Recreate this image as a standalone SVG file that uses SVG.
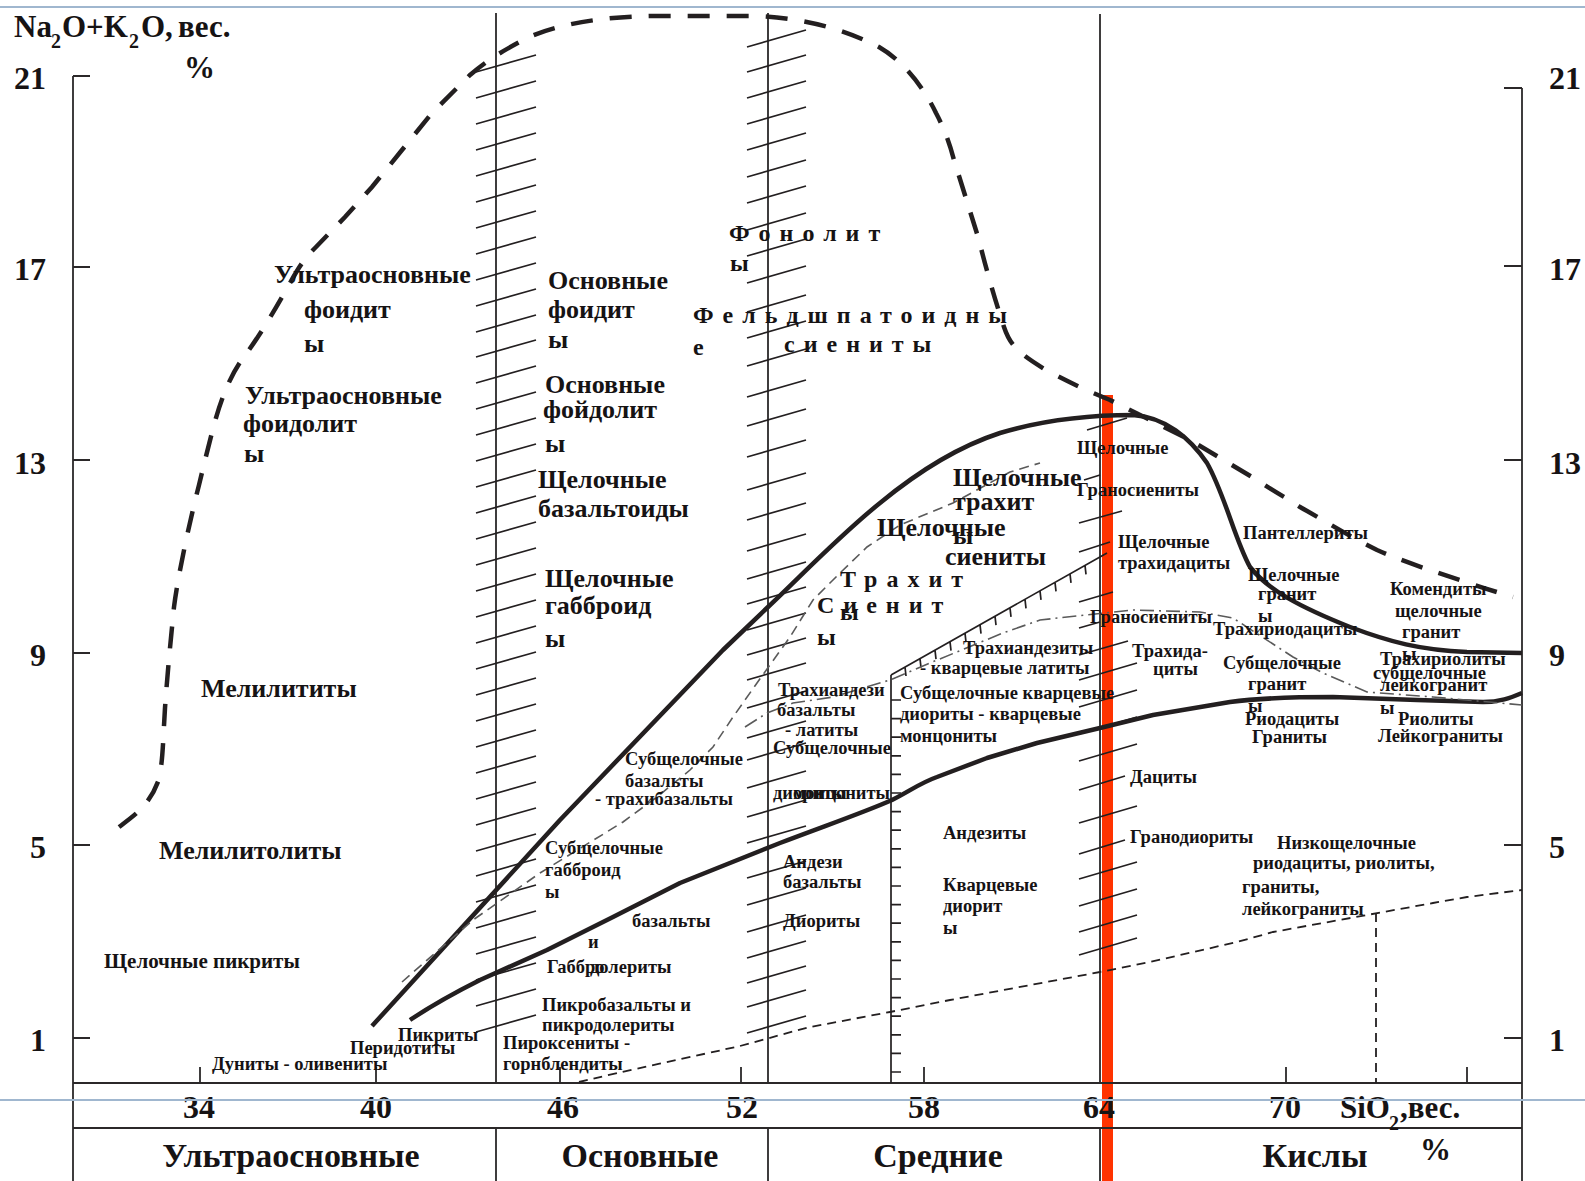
<svg xmlns="http://www.w3.org/2000/svg" width="1585" height="1181" viewBox="0 0 1585 1181">
<style>
.t{font-family:"Liberation Serif","Times New Roman",serif;font-weight:bold;fill:#161314}
.s{font-size:18.5px}.m{font-size:21px}.b{font-size:26px}.n{font-size:32px}.c{font-size:34px}
.sp{font-size:24px;letter-spacing:9px}
.ax{stroke:#2b2829;stroke-width:1.8;fill:none}
.h{stroke:#231f20;stroke-width:1.7;fill:none}
.thick{stroke:#231f20;stroke-width:4.5;fill:none;stroke-linecap:butt;stroke-linejoin:round}
.bigdash{stroke:#231f20;stroke-width:4.5;fill:none;stroke-dasharray:22 17}
.gdash{stroke:#5a5a5a;stroke-width:1.6;fill:none;stroke-dasharray:10 6}
.gdd{stroke:#5a5a5a;stroke-width:1.6;fill:none;stroke-dasharray:14 5 2 5}
.kdash{stroke:#231f20;stroke-width:1.8;fill:none;stroke-dasharray:9 6}
.blue{stroke:#a0b7cf;stroke-width:2}
</style>
<rect width="1585" height="1181" fill="#ffffff"/>

<g id="frame">
<line class="blue" x1="0" y1="7" x2="1585" y2="7"/>
<rect x="1102" y="395" width="11" height="786" fill="#ff3300"/>
<path class="ax" d="M73,76V1181M73,76H90M73,267H90M73,460H90M73,653H90M73,845H90M73,1038H90"/>
<path class="ax" d="M1522,88V1181M1504,88H1522M1504,266H1522M1504,460H1522M1504,653H1522M1504,845H1522M1504,1038H1522"/>
<path class="ax" d="M73,1083H1522M73,1128H1522"/>
<path class="ax" d="M200,1067V1083M376,1067V1083M560,1067V1083M741,1067V1083M924,1067V1083M1286,1067V1083M1467,1067V1083"/>
<path class="ax" d="M496,13V1083M496,1128V1181M768,13V1083M768,1128V1181M1100,14V1083M1100,1128V1181"/>
<path class="h" d="M891,675V1083M891,700h10M891,718.6h10M891,737.2h10M891,755.8h10M891,774.4h10M891,793h10M891,811.6h10M891,830.2h10M891,848.8h10M891,867.4h10M891,886h10M891,904.6h10M891,923.2h10M891,941.8h10M891,960.4h10M891,979h10M891,997.6h10M891,1016.2h10M891,1034.8h10M891,1053.4h10M891,1072h10"/>
<path class="h" d="M891,675L1107,553M905,667l1,9M920,658.6l1,9M935,650.1l1,9M950,641.7l1,9M965,633.2l1,9M980,624.7l1,9M995,616.2l1,9M1010,607.8l1,9M1025,599.3l1,9M1040,590.8l1,9M1055,582.3l1,9M1070,573.9l1,9M1085,565.4l1,9"/>
</g>

<g id="hatch">
<path class="h" d="M476,72l60,-17M476,98l60,-17M476,124l60,-17M476,150l60,-17M476,176l60,-17M476,202l60,-17M476,228l60,-17M476,254l60,-17M476,280l60,-17M476,306l60,-17M476,332l60,-17M476,357l60,-17M476,383l60,-17M476,409l60,-17M476,435l60,-17M476,461l60,-17M476,487l60,-17M476,513l60,-17M476,539l60,-17M476,565l60,-17M476,591l60,-17M476,617l60,-17M476,643l60,-17M476,669l60,-17M476,695l60,-17M476,721l60,-17M476,747l60,-17M476,773l60,-17M476,799l60,-17M476,825l60,-17M476,851l60,-17M476,876l60,-17M476,902l60,-17M476,928l60,-17M476,954l60,-17M476,980l60,-17M476,1006l60,-17M476,1032l60,-17"/>
<path class="h" d="M747,47l59,-17M747,72l59,-17M747,98l59,-17M747,124l59,-17M747,150l59,-17M747,177l59,-17M747,203l59,-17M747,230l59,-17M747,256l59,-17M747,283l59,-17M747,312l59,-17M747,338l59,-17M747,366l59,-17M747,397l59,-17M747,426l59,-17M747,457l59,-17M747,490l59,-17M747,520l59,-17M747,551l59,-17M747,579l59,-17M747,604l59,-17M747,630l59,-17M747,655l59,-17M747,680l59,-17M747,708l59,-17M747,738l59,-17M747,760l59,-17M747,788l59,-17M747,817l59,-17M747,843l59,-17M747,878l59,-17M747,905l59,-17M747,932l59,-17M747,958l59,-17M747,983l59,-17M747,1007l59,-17M747,1033l59,-17"/>
<path class="h" d="M1087,430l40,-12M1084,480l16,-5M1079,523l43,-12M1079,552l31,-10M1079,602l34,-10M1079,628l21,-6M1079,655l49,-14M1079,680l58,-17M1079,707l58,-17M1079,734l58,-17M1079,761l58,-17M1079,790l46,-14M1079,823l58,-17M1079,854l46,-14M1079,879l58,-17M1079,906l58,-17M1079,932l58,-17M1079,955l58,-17"/>
</g>

<g id="connectors">
<path class="bigdash" d="M119,827C135,815 150,805 159,779C163,760 163,740 165,708C167,680 169,657 174,607C178,575 190,520 199,485C205,460 210,440 214,425C222,395 232,372 246,354C260,335 275,310 290,283C300,265 305,258 316,247L345,217L372,187L402,150L432,113L470,75C485,62 500,52 529,37C560,24 600,17 650,16L757,16C800,18 840,27 879,47C905,62 925,90 936,113C945,130 950,145 954,160L979,240C985,265 995,300 1004,327C1010,345 1018,353 1046,370C1070,383 1090,392 1110,400L1190,440L1257,480C1280,495 1290,500 1300,507C1320,518 1350,537 1377,550C1400,560 1420,567 1460,580C1480,587 1500,593 1513,597"/>
<path class="thick" d="M372,1026L560,820L723,650L768,607C800,577 840,535 880,503C920,470 960,446 1000,433C1040,421 1080,415 1133,415C1165,417 1190,438 1207,463C1225,495 1235,540 1250,567C1268,590 1300,607 1350,627C1390,642 1420,650 1467,652L1522,653"/>
<path class="thick" d="M410,1020C440,1000 460,990 480,980L547,950L613,917L680,883L780,843C830,824 865,812 892,800C910,791 920,783 937,777L987,758L1037,743L1100,728L1153,715L1230,702C1260,698 1300,697 1333,697L1417,700L1483,702C1500,702 1510,698 1522,693"/>
<path class="gdash" d="M402,982L473,920L540,873L623,822L657,797L690,770L713,747L733,717L757,683L790,637L813,600L840,573L867,547L900,525L953,503L1010,472L1040,463"/>
<path class="gdd" d="M745,727L767,713L793,703L833,697L863,688L890,680L930,663L1003,633L1040,620L1067,617L1133,610L1200,612L1233,618L1293,657L1323,673L1367,692L1433,697L1522,705"/>
<path class="kdash" d="M579,1082C620,1072 700,1055 740,1046C770,1038 790,1032 810,1027L890,1012L950,1000L1100,972L1150,962L1237,942L1273,932L1367,915L1433,903L1467,897L1522,890"/>
<path class="kdash" d="M1376,913V1083"/>
</g>

<g id="axis-labels" class="t">
<text class="n" x="46" y="89" text-anchor="end">21</text>
<text class="n" x="46" y="280" text-anchor="end">17</text>
<text class="n" x="46" y="474" text-anchor="end">13</text>
<text class="n" x="46" y="666" text-anchor="end">9</text>
<text class="n" x="46" y="858" text-anchor="end">5</text>
<text class="n" x="46" y="1051" text-anchor="end">1</text>
<text class="n" x="1549" y="89">21</text>
<text class="n" x="1549" y="280">17</text>
<text class="n" x="1549" y="474">13</text>
<text class="n" x="1549" y="666">9</text>
<text class="n" x="1549" y="858">5</text>
<text class="n" x="1549" y="1051">1</text>
<text class="n" y="1118" text-anchor="middle"><tspan x="199">34</tspan><tspan x="376">40</tspan><tspan x="563">46</tspan><tspan x="742">52</tspan><tspan x="924">58</tspan><tspan x="1099">64</tspan><tspan x="1285">70</tspan></text>
<text font-size="31" y="37"><tspan x="14">Na</tspan><tspan x="51" y="48" font-size="20">2</tspan><tspan x="62" y="37">O+K</tspan><tspan x="129" y="48" font-size="20">2</tspan><tspan x="141" y="37">O,</tspan><tspan x="178">вес.</tspan></text>
<text font-size="31" x="184" y="78">%</text>
<text font-size="31" y="1118"><tspan x="1340">SiO</tspan><tspan x="1389" y="1130" font-size="20">2</tspan><tspan x="1400" y="1118">,вес.</tspan></text>
<text font-size="31" x="1420" y="1160">%</text>
<text class="c" x="291" y="1167" text-anchor="middle">Ультраосновные</text>
<text class="c" x="640" y="1167" text-anchor="middle">Основные</text>
<text class="c" x="938" y="1167" text-anchor="middle">Средние</text>
<text class="c" x="1315" y="1167" text-anchor="middle">Кислы</text>
</g>

<g id="ultrabasic-labels" class="t">
<text class="b" x="274" y="283">Ультраосновные</text>
<text class="b" x="304" y="318">фоидит</text>
<text class="b" x="304" y="352">ы</text>
<text class="b" x="245" y="404">Ультраосновные</text>
<text class="b" x="243" y="432">фоидолит</text>
<text class="b" x="244" y="462">ы</text>
<text class="b" x="201" y="697">Мелилититы</text>
<text class="b" x="159" y="859">Мелилитолиты</text>
<text class="m" x="104" y="968">Щелочные пикриты</text>
<text class="s" x="212" y="1070">Дуниты - оливениты</text>
<text class="s" x="350" y="1054">Перидотиты</text>
<text class="s" x="398" y="1041">Пикриты</text>
</g>

<g id="basic-labels" class="t">
<text class="b" x="548" y="289">Основные</text>
<text class="b" x="548" y="318">фоидит</text>
<text class="b" x="548" y="348">ы</text>
<text class="b" x="545" y="393">Основные</text>
<text class="b" x="543" y="418">фойдолит</text>
<text class="b" x="545" y="452">ы</text>
<text class="b" x="538" y="488">Щелочные</text>
<text class="b" x="538" y="517">базальтоиды</text>
<text class="b" x="545" y="587">Щелочные</text>
<text class="b" x="545" y="614">габброид</text>
<text class="b" x="545" y="647">ы</text>
<text class="s" x="625" y="765">Субщелочные</text>
<text class="s" x="625" y="787">базальты</text>
<text class="s" x="595" y="805">- трахибазальты</text>
<text class="s" x="545" y="854">Субщелочные</text>
<text class="s" x="545" y="876">габброид</text>
<text class="s" x="545" y="898">ы</text>
<text class="s" x="632" y="927">базальты</text>
<text class="s" x="588" y="948">и</text>
<text class="s" x="547" y="973">Габбро</text>
<text class="s" x="590" y="973">долериты</text>
<text class="s" x="542" y="1011">Пикробазальты и</text>
<text class="s" x="542" y="1031">пикродолериты</text>
<text class="s" x="503" y="1049">Пироксениты -</text>
<text class="s" x="503" y="1070">горнблендиты</text>
</g>

<g id="foid-labels" class="t">
<text class="sp" x="729" y="241">Фонолит</text>
<text class="sp" x="730" y="271">ы</text>
<text class="sp" x="693" y="323">Фельдшпатоидны</text>
<text class="sp" x="693" y="355">е</text>
<text class="sp" x="784" y="352">сиениты</text>
</g>

<g id="intermediate-labels" class="t">
<text class="b" x="953" y="486">Щелочные</text>
<text class="b" x="953" y="510">трахит</text>
<text class="b" x="953" y="544">ы</text>
<text class="b" x="877" y="536">Щелочные</text>
<text class="b" x="945" y="565">сиениты</text>
<text class="sp" x="840" y="587">Трахит</text>
<text class="sp" x="817" y="613">Сиенит</text>
<text class="sp" x="840" y="620">ы</text>
<text class="sp" x="817" y="645">ы</text>
<text class="s" x="778" y="696">Трахиандези</text>
<text class="s" x="777" y="716">базальты</text>
<text class="s" x="785" y="736">- латиты</text>
<text class="s" x="773" y="754">Субщелочные</text>
<text class="s" x="773" y="799">диориты</text>
<text class="s" x="793" y="799">монцониты</text>
<text class="s" x="783" y="868">Андези</text>
<text class="s" x="783" y="888">базальты</text>
<text class="s" x="783" y="927">Диориты</text>
<text class="s" x="963" y="654">Трахиандезиты</text>
<text class="s" x="920" y="674">- кварцевые латиты</text>
<text class="s" x="900" y="699">Субщелочные кварцевые</text>
<text class="s" x="900" y="720">диориты - кварцевые</text>
<text class="s" x="900" y="742">монцониты</text>
<text class="s" x="943" y="839">Андезиты</text>
<text class="s" x="943" y="891">Кварцевые</text>
<text class="s" x="943" y="912">диорит</text>
<text class="s" x="943" y="934">ы</text>
</g>

<g id="acid-labels" class="t">
<text class="s" x="1077" y="454">Щелочные</text>
<text class="s" x="1077" y="496">Граносиениты</text>
<text class="s" x="1118" y="548">Щелочные</text>
<text class="s" x="1118" y="569">трахидациты</text>
<text class="s" x="1090" y="623">Граносиениты</text>
<text class="s" x="1132" y="657">Трахида-</text>
<text class="s" x="1153" y="675">циты</text>
<text class="s" x="1130" y="783">Дациты</text>
<text class="s" x="1130" y="843">Гранодиориты</text>
<text class="s" x="1243" y="539">Пантеллериты</text>
<text class="s" x="1248" y="581">Щелочные</text>
<text class="s" x="1258" y="600">гранит</text>
<text class="s" x="1258" y="622">ы</text>
<text class="s" x="1213" y="635">Трахириодациты</text>
<text class="s" x="1223" y="669">Субщелочные</text>
<text class="s" x="1248" y="690">гранит</text>
<text class="s" x="1248" y="712">ы</text>
<text class="s" x="1245" y="725">Риодациты</text>
<text class="s" x="1252" y="743">Граниты</text>
<text class="s" x="1390" y="595">Комендиты</text>
<text class="s" x="1395" y="617">щелочные</text>
<text class="s" x="1402" y="638">гранит</text>
<text class="s" x="1402" y="660">ы</text>
<text class="s" x="1380" y="665">Трахириолиты</text>
<text class="s" x="1373" y="679">субщелочные</text>
<text class="s" x="1380" y="691">лейкогранит</text>
<text class="s" x="1380" y="714">ы</text>
<text class="s" x="1398" y="725">Риолиты</text>
<text class="s" x="1378" y="742">Лейкограниты</text>
<text class="s" x="1277" y="849">Низкощелочные</text>
<text class="s" x="1253" y="869">риодациты, риолиты,</text>
<text class="s" x="1242" y="893">граниты,</text>
<text class="s" x="1242" y="915">лейкограниты</text>
</g>

<line class="blue" x1="0" y1="1100" x2="1585" y2="1100"/>
</svg>
